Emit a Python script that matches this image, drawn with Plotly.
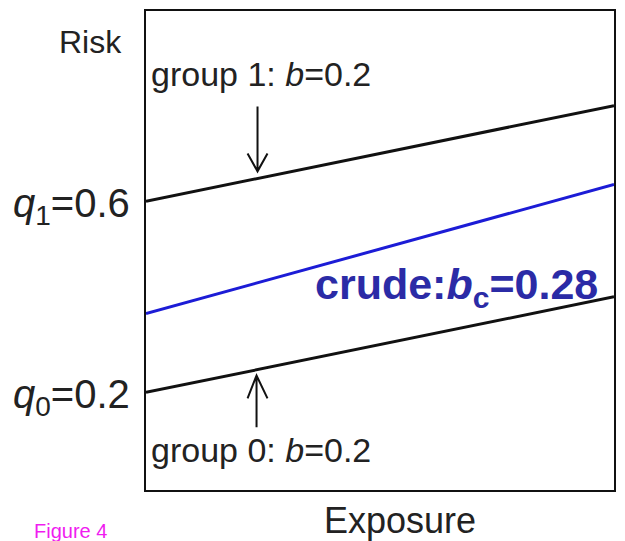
import plotly.graph_objects as go

# Data
exposure = [0.0, 1.0]
group1_risk = [0.6, 0.8]
crude_risk = [0.365, 0.635]
group0_risk = [0.2, 0.4]
q_values = [0.6, 0.2]
q_labels = ["<i>q</i><sub>1</sub>=0.6", "<i>q</i><sub>0</sub>=0.2"]

FONT = "Liberation Sans, Arial, sans-serif"
BLUE_LINE = "#1c1cd6"
BLUE_TEXT = "#2b2ba6"

fig = go.Figure()
fig.add_trace(go.Scatter(x=exposure, y=group1_risk, mode="lines",
                         line=dict(color="#111111", width=3), hoverinfo="skip"))
fig.add_trace(go.Scatter(x=exposure, y=crude_risk, mode="lines",
                         line=dict(color=BLUE_LINE, width=3), hoverinfo="skip"))
fig.add_trace(go.Scatter(x=exposure, y=group0_risk, mode="lines",
                         line=dict(color="#111111", width=3), hoverinfo="skip"))

annotations = []
for v, t in zip(q_values, q_labels):
    annotations.append(dict(xref="paper", yref="y", x=-0.03, y=v - 0.01, text=t,
                            showarrow=False, xanchor="right", yanchor="middle",
                            font=dict(family=FONT, size=40, color="#222222")))
annotations += [
    dict(xref="paper", yref="paper", x=-0.046, y=0.935, text="Risk", showarrow=False,
         xanchor="right", yanchor="middle", font=dict(family=FONT, size=32, color="#222222")),
    dict(xref="paper", yref="paper", x=0.006, y=0.869, text="group 1: <i>b</i>=0.2", showarrow=False,
         xanchor="left", yanchor="middle", font=dict(family=FONT, size=34, color="#222222")),
    dict(xref="paper", yref="paper", x=0.006, y=0.083, text="group 0: <i>b</i>=0.2", showarrow=False,
         xanchor="left", yanchor="middle", font=dict(family=FONT, size=34, color="#222222")),
    dict(xref="paper", yref="paper", x=0.357, y=0.424,
         text="<b>crude:<i>b</i><sub>c</sub>=0.28</b>", showarrow=False,
         xanchor="left", yanchor="middle", font=dict(family=FONT, size=43, color=BLUE_TEXT)),
    dict(xref="paper", yref="paper", x=0.5426, y=-0.064, text="Exposure", showarrow=False,
         xanchor="center", yanchor="middle", font=dict(family=FONT, size=36, color="#222222")),
    dict(xref="paper", yref="paper", x=-0.1613, y=-0.085, text="Figure 4", showarrow=False,
         xanchor="center", yanchor="middle", font=dict(family=FONT, size=20, color="#f01cf0")),
]

shapes = [
    dict(type="path", xref="x", yref="y",
         path="M0.2383,0.798 L0.2383,0.6625 M0.217,0.70 L0.2383,0.6625 L0.2596,0.70",
         line=dict(color="#111111", width=2)),
    dict(type="path", xref="x", yref="y",
         path="M0.2362,0.127 L0.2362,0.2354 M0.217,0.1875 L0.2362,0.2354 L0.2596,0.1875",
         line=dict(color="#111111", width=2)),
]

fig.update_layout(
    width=609, height=533,
    margin=dict(l=138, r=1, t=1, b=51),
    paper_bgcolor="white", plot_bgcolor="white",
    showlegend=False,
    annotations=annotations,
    shapes=shapes,
    xaxis=dict(range=[0, 1], showgrid=False, zeroline=False, showticklabels=False,
               ticks="", showline=True, mirror=True, linecolor="#111111", linewidth=2),
    yaxis=dict(range=[-0.0042, 0.998], showgrid=False, zeroline=False, showticklabels=False,
               ticks="", showline=True, mirror=True, linecolor="#111111", linewidth=2),
)

fig.write_html("out.html")
